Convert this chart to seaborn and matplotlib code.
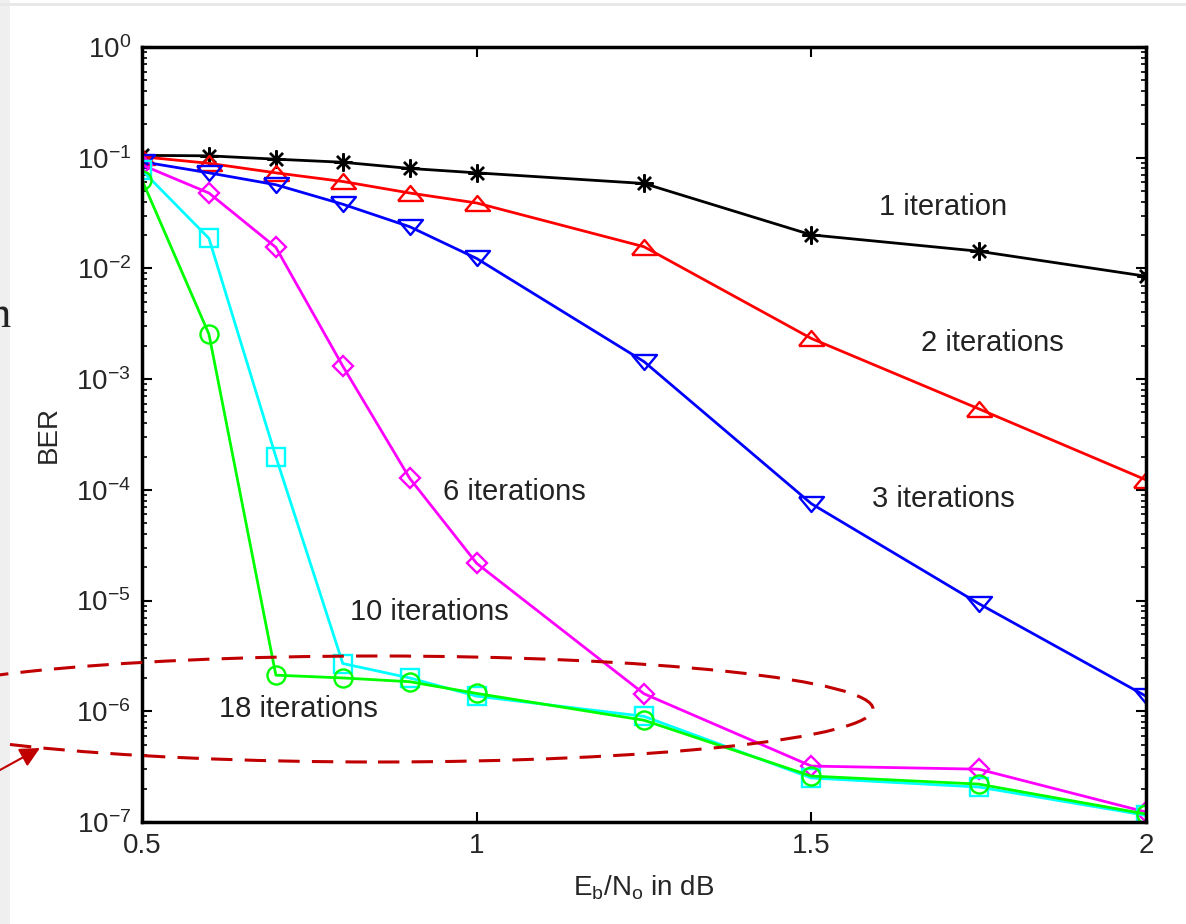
"""
BER vs Eb/No for turbo decoding with different iteration counts
"""

import matplotlib
matplotlib.use('Agg')
import matplotlib.pyplot as plt
from matplotlib.patches import Ellipse, Rectangle
from matplotlib.ticker import LogLocator, NullFormatter, FixedLocator
import seaborn as sns

# data
ebno = [0.5, 0.6, 0.7, 0.8, 0.9, 1.0, 1.25, 1.5, 1.75, 2.0]
ber_1 = [0.105, 0.104, 0.097, 0.091, 0.080, 0.073, 0.0585, 0.0201, 0.0143, 0.0085]
ber_2 = [0.102, 0.089, 0.073, 0.061, 0.048, 0.039, 0.0157, 0.00233, 5.4e-4, 1.23e-4]
ber_3 = [0.092, 0.073, 0.057, 0.038, 0.0238, 0.0123, 1.44e-3, 7.5e-5, 9.4e-6, 1.37e-6]
ber_6 = [0.086, 0.048, 0.0155, 1.31e-3, 1.27e-4, 2.17e-5, 1.44e-6, 3.2e-7, 3.0e-7, 1.23e-7]
ber_10 = [0.077, 0.0187, 1.99e-4, 2.7e-6, 2.0e-6, 1.37e-6, 9.0e-7, 2.5e-7, 2.07e-7, 1.15e-7]
ber_18 = [0.063, 2.55e-3, 2.12e-6, 2.0e-6, 1.85e-6, 1.45e-6, 8.3e-7, 2.6e-7, 2.2e-7, 1.18e-7]

series_names = ['1 iteration', '2 iterations', '3 iterations',
                '6 iterations', '10 iterations', '18 iterations']
series_values = [ber_1, ber_2, ber_3, ber_6, ber_10, ber_18]

# where the iteration labels sit (data coords)
label_x = [1.697, 1.771, 1.698, 1.057, 0.929, 0.733]
label_y = [0.0361, 2.12e-3, 8.26e-5, 9.55e-5, 7.9e-6, 1.05e-6]

xtick_vals = [0.5, 1, 1.5, 2]
xtick_labels = ['0.5', '1', '1.5', '2']

# matlab style colours and markers
tri_up = [(-1, -0.6), (1, -0.6), (0, 0.6), (-1, -0.6)]
tri_down = [(-1, 0.6), (1, 0.6), (0, -0.6), (-1, 0.6)]
styles = [
    dict(color='black', marker=(8, 2, 0), ms=13),
    dict(color='#ff0000', marker=tri_up, ms=18),
    dict(color='#0000ff', marker=tri_down, ms=18),
    dict(color='#ff00ff', marker='D', ms=10),
    dict(color='#00ffff', marker='s', ms=13),
    dict(color='#00ff00', marker='o', ms=13),
]

sns.set_style('ticks')
plt.rcParams['font.family'] = ['Liberation Sans', 'DejaVu Sans']
plt.rcParams['mathtext.fontset'] = 'custom'
plt.rcParams['mathtext.rm'] = 'Liberation Sans'
plt.rcParams['mathtext.it'] = 'Liberation Sans'
plt.rcParams['axes.unicode_minus'] = False

fig = plt.figure(figsize=(11.86, 9.24), dpi=100)
fig.patch.set_facecolor('white')
ax = fig.add_axes([142 / 1186, 1 - 822 / 924, 1004 / 1186, 775 / 924])

for vals, st in zip(series_values, styles):
    sns.lineplot(x=ebno, y=vals, ax=ax, color=st['color'], lw=2,
                 marker=st['marker'], ms=st['ms'], mfc='none',
                 mec=st['color'], mew=1.7)

ax.set_yscale('log')
ax.set_xlim(0.5, 2)
ax.set_ylim(1e-7, 1)

ax.xaxis.set_major_locator(FixedLocator(xtick_vals))
ax.set_xticklabels(xtick_labels)
ax.yaxis.set_major_locator(LogLocator(base=10, numticks=12))
ax.yaxis.set_minor_locator(LogLocator(base=10, subs=range(2, 10), numticks=12))
ax.yaxis.set_minor_formatter(NullFormatter())

ax.tick_params(which='both', direction='in', top=True, right=True, labelsize=20, color='black')
ax.tick_params(which='major', length=7, width=1.5, pad=8)
ax.tick_params(which='minor', length=3.6, width=1.2)
ax.tick_params(axis='x', which='minor', bottom=False, top=False)
for sp in ax.spines.values():
    sp.set_linewidth(2.5)
    sp.set_color('black')

ax.set_xlabel('E$_\\mathregular{b}$/N$_\\mathregular{o}$ in dB', fontsize=20, labelpad=10)
ax.set_ylabel('BER', fontsize=20, labelpad=10)

for name, tx, ty in zip(series_names, label_x, label_y):
    ax.text(tx, ty, name, fontsize=21, color='#222222', ha='center', va='center')

# slide decorations around the figure (behind everything else)
fig.add_artist(Rectangle((0, 0), 10 / 1186, 1, transform=fig.transFigure,
                         facecolor='#efefef', edgecolor='none', zorder=-5))
fig.add_artist(Rectangle((0, 1 - 6 / 924), 1, 3 / 924, transform=fig.transFigure,
                         facecolor='#e8e8e8', edgecolor='none', zorder=-5))
fig.text(11 / 1186, 1 - 327 / 924, 'n', family=['Liberation Serif', 'DejaVu Serif'],
         fontsize=32, ha='right', va='baseline', color='#222222')

# dashed ellipse around the 18 iteration floor
fig.add_artist(Ellipse((378 / 1186, 1 - 709 / 924), 990 / 1186, 106 / 924,
                       transform=fig.transFigure, fill=False, edgecolor='#c00000',
                       lw=2.2, linestyle=(0, (7, 4)), clip_on=False, zorder=5))
ax.annotate('', xy=(40, 924 - 748), xycoords='figure pixels',
            xytext=(0, 924 - 770), textcoords='figure pixels',
            arrowprops=dict(arrowstyle='-|>,head_length=0.8,head_width=0.4',
                            color='#c00000', lw=1.5, mutation_scale=15,
                            shrinkA=0, shrinkB=0),
            annotation_clip=False)

fig.savefig('out.png', dpi=100)
